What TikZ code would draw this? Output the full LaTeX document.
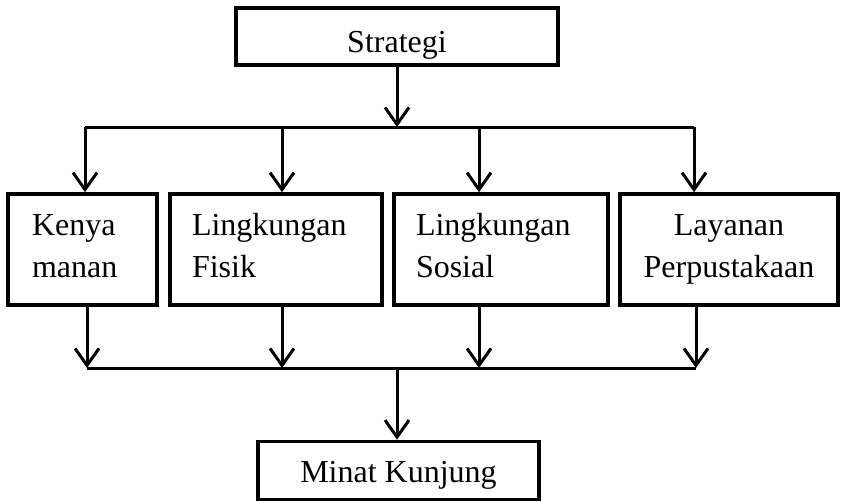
\documentclass[tikz,border=0pt]{standalone}
\usepackage{fontspec}
\setmainfont{Liberation Serif}
\usetikzlibrary{arrows.meta}
\begin{document}
\begin{tikzpicture}[x=1pt,y=-1pt,
  boxnode/.style={draw=black, line width=3.6pt, inner ysep=0pt, font=\fontsize{32}{42}\selectfont},
  midbox/.style={boxnode, text height=41pt, text depth=70pt},
  conn/.style={line width=3pt},
  arr/.style={conn, -{Straight Barb[length=17pt,width=24pt,line width=3pt]}}]
\useasboundingbox (0,0) rectangle (841,501);
% top node
\node[boxnode, minimum width=322pt, text height=44pt, text depth=13pt] (strat) at (397,36.5) {Strategi};
% middle boxes
\node[midbox, minimum width=149pt, inner xsep=24pt] (ken) at (82.5,249.5)
  {\parbox[t]{101pt}{\raggedright Kenya\\manan}};
\node[midbox, minimum width=212pt, inner xsep=22pt] (fis) at (276,249.5)
  {\parbox[t]{168pt}{\raggedright Lingkungan\\Fisik}};
\node[midbox, minimum width=214pt, inner xsep=22pt] (sos) at (501,249.5)
  {\parbox[t]{170pt}{\raggedright Lingkungan\\Sosial}};
\node[midbox, minimum width=218pt, inner xsep=8pt] (lay) at (729,249.5)
  {\parbox[t]{202pt}{\centering Layanan\\Perpustakaan}};
% bottom node
\node[boxnode, minimum width=281pt, text height=41pt, text depth=17pt] (min) at (398.5,470.5) {Minat Kunjung};
% top bus
\coordinate (tl) at (85,127);
\coordinate (tr) at (694,127);
\draw[conn] (tl) -- (tr);
\draw[arr] (strat.south) -- (strat.south |- tl);
\draw[arr] (tl) -- (tl |- ken.north);
\draw[arr] (282,127) -- (282,0 |- fis.north);
\draw[arr] (479,127) -- (479,0 |- sos.north);
\draw[arr] (tr) -- (tr |- lay.north);
% bottom bus
\coordinate (bl) at (87,368);
\coordinate (br) at (696,368);
\coordinate (bm) at (397,368);
\draw[conn] (bl) -- (br);
\draw[arr] (bl |- ken.south) -- (bl);
\draw[arr] (282,0 |- fis.south) -- (282,368);
\draw[arr] (479,0 |- sos.south) -- (479,368);
\draw[arr] (br |- lay.south) -- (br);
\draw[arr] (bm) -- (bm |- min.north);
\end{tikzpicture}
\end{document}
